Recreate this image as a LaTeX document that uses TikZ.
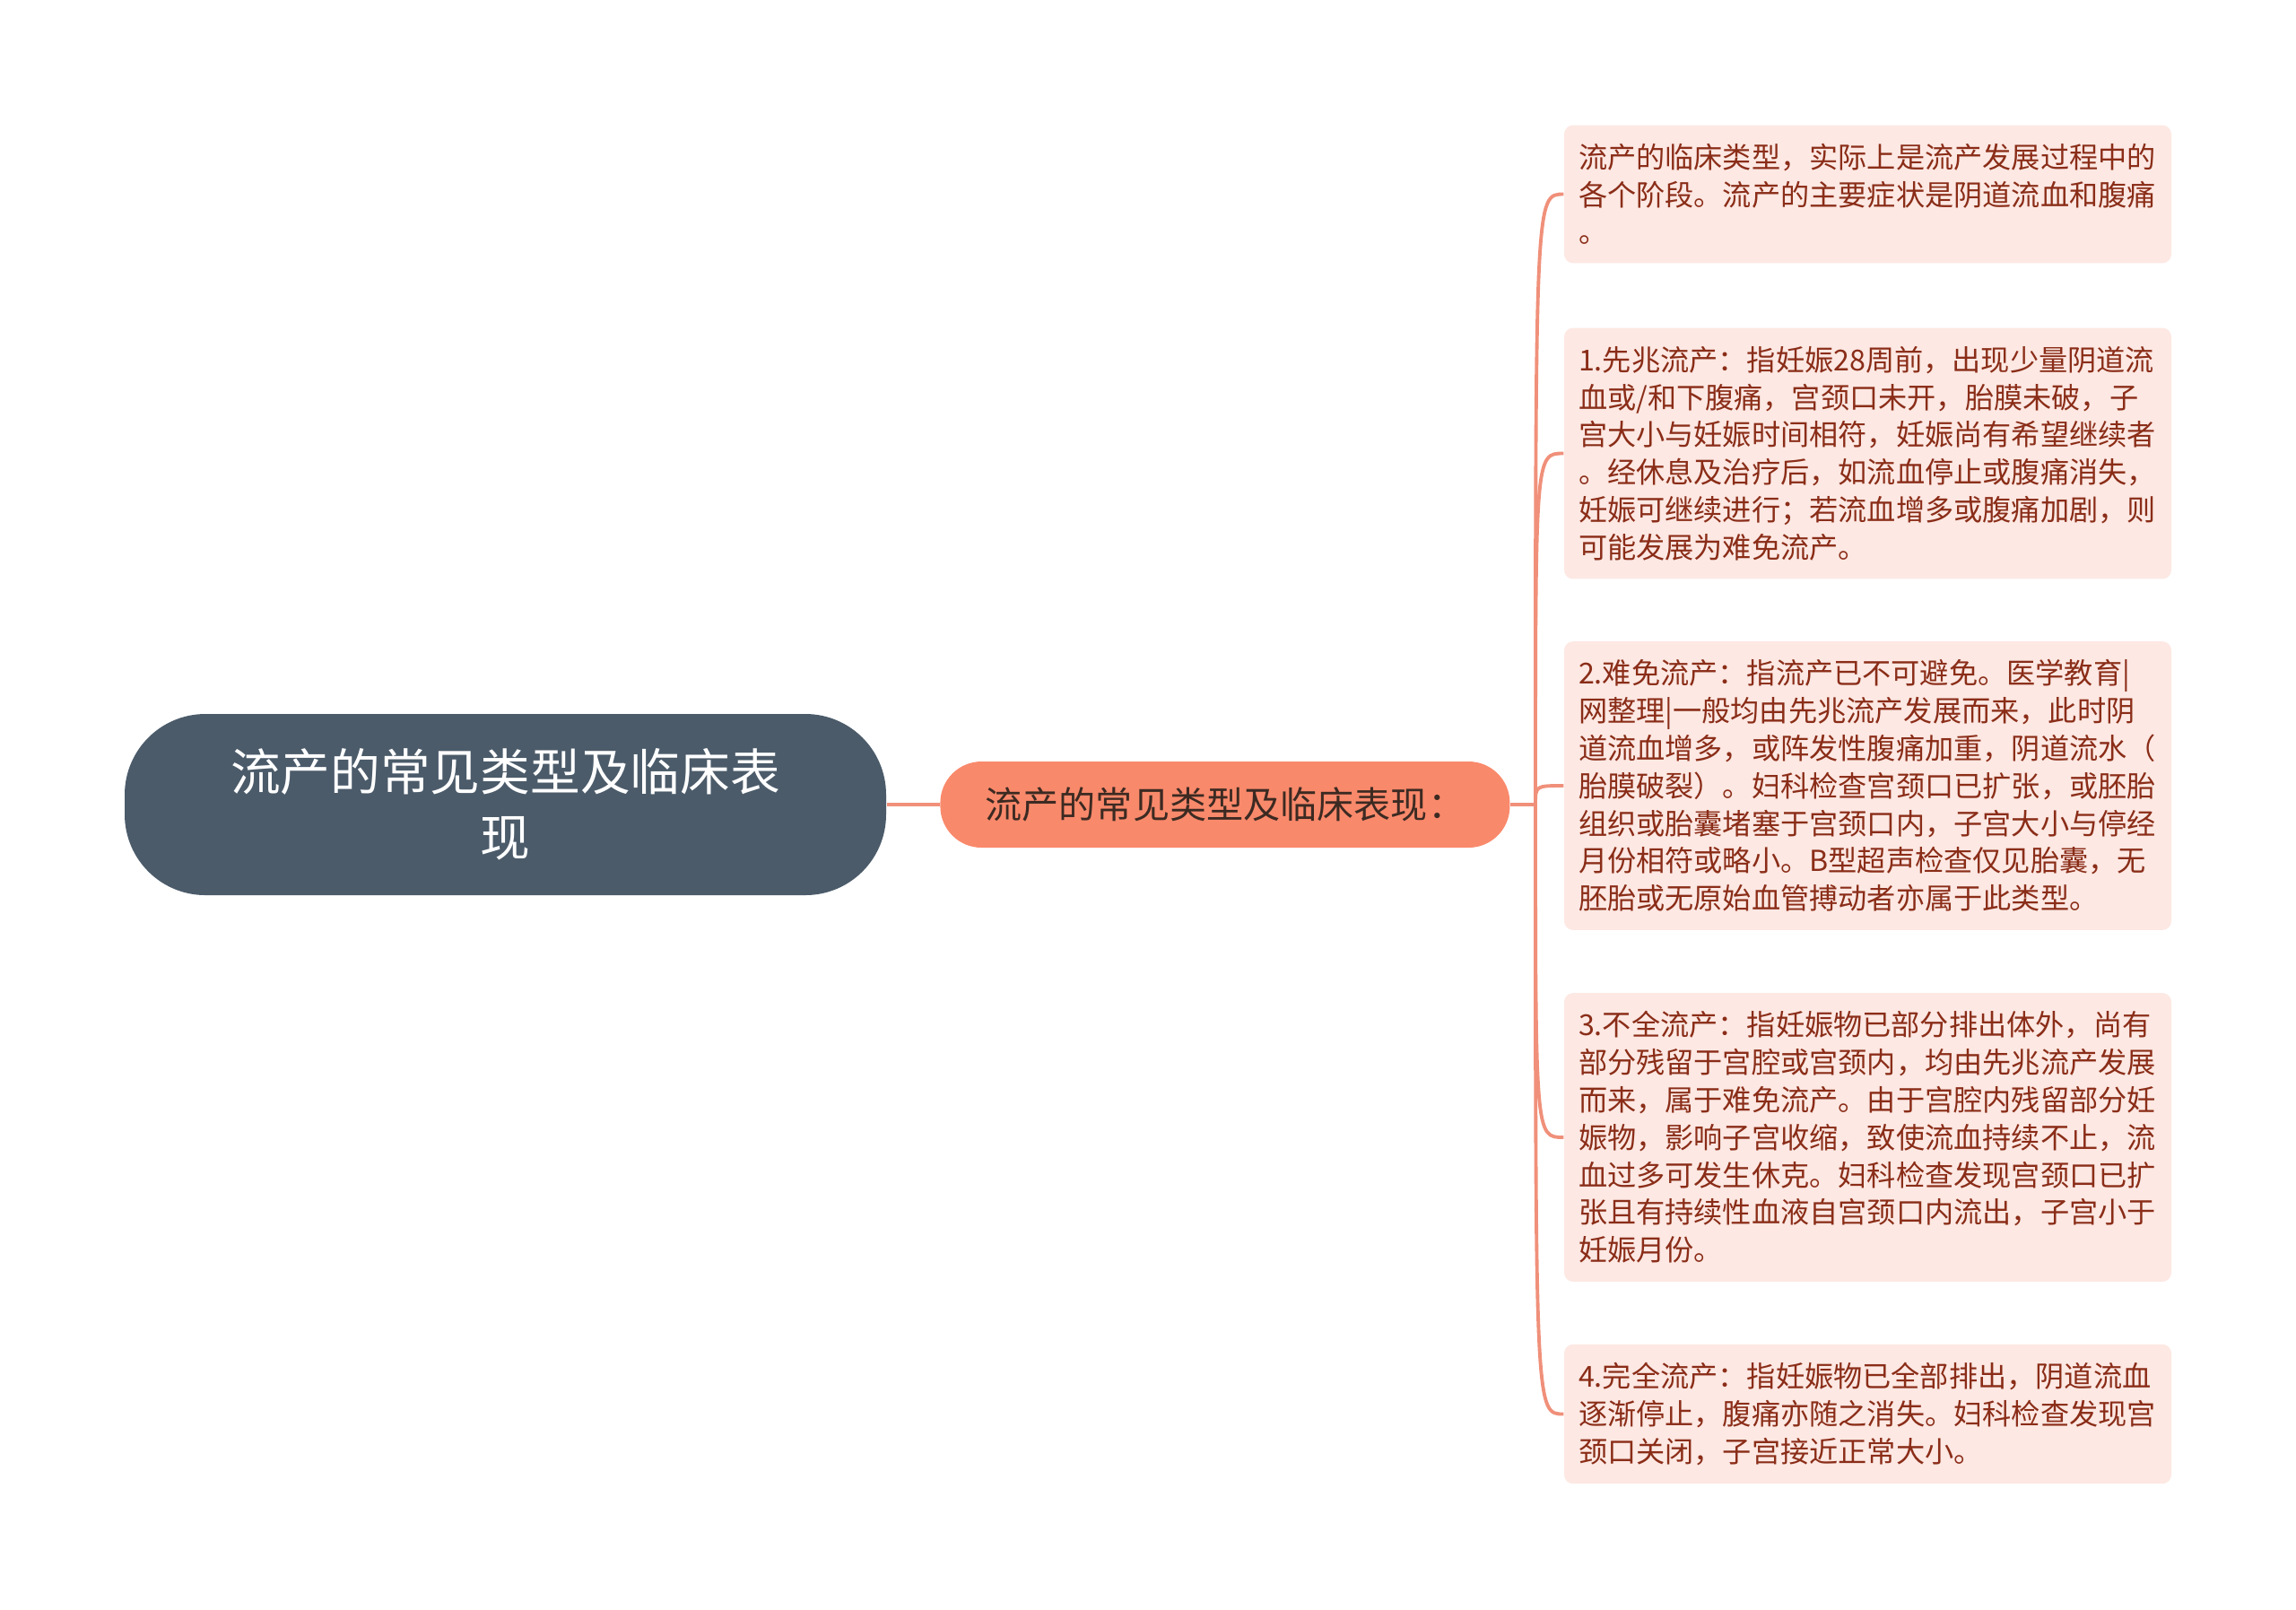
\documentclass[tikz,border=0pt]{standalone}
\usepackage{fontspec}
\setmainfont{Noto Sans CJK SC}
\usepackage{tikz}
\usetikzlibrary{positioning}
\tikzset{node distance=2cm, auto}

\definecolor{rootfill}{HTML}{4B5B6A}
\definecolor{topicfill}{HTML}{F9896B}
\definecolor{topictext}{HTML}{3C2A22}
\definecolor{leaffill}{HTML}{FDE8E3}
\definecolor{leaftext}{HTML}{8A2D18}
\definecolor{linkcolor}{HTML}{F0907A}

\begin{document}
\begin{tikzpicture}[
  root/.style={fill=rootfill,text=white,rounded corners=0.9cm,inner sep=0pt,
    minimum width=8.49cm,minimum height=2.02cm,align=center,
    font=\fontsize{15.85pt}{20.9pt}\selectfont},
  topic/.style={fill=topicfill,text=topictext,rounded corners=0.46cm,inner sep=0pt,
    minimum width=6.35cm,minimum height=0.96cm,
    font=\fontsize{11.7pt}{14pt}\selectfont},
  leaf/.style={fill=leaffill,text=leaftext,rounded corners=0.1cm,
    inner xsep=0.16cm,inner ysep=0.205cm,text width=6.45cm,align=left,
    font=\fontsize{9.16pt}{11.89pt}\selectfont},
  link/.style={draw=linkcolor,line width=1.1pt}]

  \useasboundingbox (0,0) rectangle (25.6,-17.94);

  % Position the two central nodes
  \node[root] (root) at (5.635,-8.97) {流产的常见类型及临床表\\现};
  \node[topic, right=0.59cm of root] (topic) {流产的常见类型及临床表现：};

  % Position the leaves at their heights
  \node[leaf] (intro) at (20.825,-2.165) {流产的临床类型，实际上是流产发展过程中的\\各个阶段。流产的主要症状是阴道流血和腹痛\\。};
  \node[leaf] (threat) at (20.825,-5.055) {1.先兆流产：指妊娠28周前，出现少量阴道流\\血或/和下腹痛，宫颈口未开，胎膜未破，子\\宫大小与妊娠时间相符，妊娠尚有希望继续者\\。经休息及治疗后，如流血停止或腹痛消失，\\妊娠可继续进行；若流血增多或腹痛加剧，则\\可能发展为难免流产。};
  \node[leaf] (inevitable) at (20.825,-8.76) {2.难免流产：指流产已不可避免。医学教育|\\网整理|一般均由先兆流产发展而来，此时阴\\道流血增多，或阵发性腹痛加重，阴道流水（\\胎膜破裂）。妇科检查宫颈口已扩张，或胚胎\\组织或胎囊堵塞于宫颈口内，子宫大小与停经\\月份相符或略小。B型超声检查仅见胎囊，无\\胚胎或无原始血管搏动者亦属于此类型。};
  \node[leaf] (incomplete) at (20.825,-12.68) {3.不全流产：指妊娠物已部分排出体外，尚有\\部分残留于宫腔或宫颈内，均由先兆流产发展\\而来，属于难免流产。由于宫腔内残留部分妊\\娠物，影响子宫收缩，致使流血持续不止，流\\血过多可发生休克。妇科检查发现宫颈口已扩\\张且有持续性血液自宫颈口内流出，子宫小于\\妊娠月份。};
  \node[leaf] (complete) at (20.825,-15.765) {4.完全流产：指妊娠物已全部排出，阴道流血\\逐渐停止，腹痛亦随之消失。妇科检查发现宫\\颈口关闭，子宫接近正常大小。};

  % Draw the links between the nodes
  \coordinate (fork) at (17.12,-8.97);
  \draw[link] (root) -- (topic);
  \draw[link] (topic) -- (fork);
  \foreach \n in {intro,threat,inevitable,incomplete,complete}
    \draw[link] (fork) .. controls (fork |- \n.west) .. (\n.west);

\end{tikzpicture}
\end{document}
